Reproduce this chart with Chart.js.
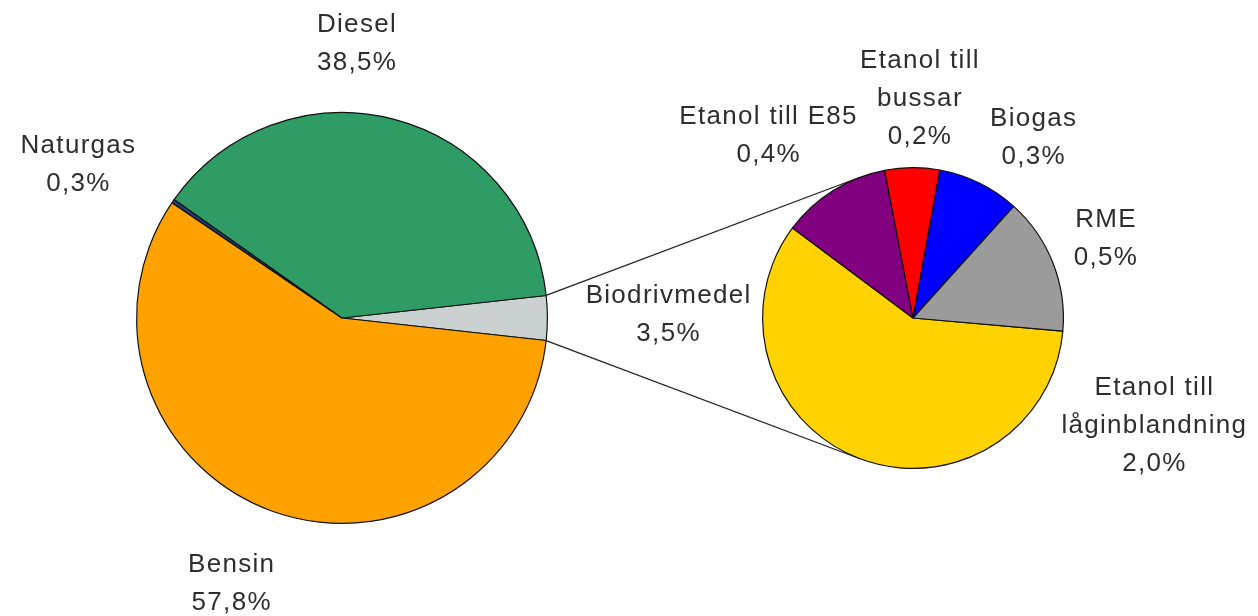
<!DOCTYPE html>
<html><head><meta charset="utf-8">
<script src="https://cdn.jsdelivr.net/npm/chart.js@4.4.0/dist/chart.umd.min.js"></script>
<style>
html,body{margin:0;padding:0;background:#fff;}
#wrap{position:relative;width:1258px;height:616px;overflow:hidden;}
#wrap canvas{position:absolute;left:0;top:0;}
</style></head><body>
<div id="wrap"><canvas id="c1" width="1258" height="616"></canvas><canvas id="c2" width="1258" height="616"></canvas></div>
<script>
// ---- data ----
const mainLabels = ['Biodrivmedel', 'Bensin', 'Naturgas', 'Diesel'];
const mainValues = [3.5, 57.8, 0.3, 38.5];
const mainColors = ['#cbd1d1', '#ffa200', '#1c3f78', '#2f9c66'];

const subLabels = ['Etanol till\nlåginblandning', 'Etanol till E85', 'Etanol till\nbussar', 'Biogas', 'RME'];
const subValues = [2.0, 0.4, 0.2, 0.3, 0.5];
const subColors = ['#ffd200', '#800080', '#ff0000', '#0000ff', '#9b9b9b'];

// label anchors relative to pie centre, in units of the pie radius
const mainAnchors = [[1.59, -0.015], [-0.537, 1.295], [-1.283, -0.744], [0.073, -1.337]];
const subAnchors = [[1.605, 0.717], [-0.96, -1.214], [0.046, -1.454], [0.803, -1.197], [1.283, -0.526]];

const fmt = v => v.toFixed(1).replace('.', ',') + '%';
const FONT = '26px "Liberation Sans", Arial, sans-serif';
const LH = 38;

const outLabels = {
  id: 'outLabels',
  afterDraw(chart, args, opts) {
    const ctx = chart.ctx;
    const arc = chart.getDatasetMeta(0).data[0];
    const cx = arc.x, cy = arc.y, r = arc.outerRadius;
    const vals = chart.data.datasets[0].data;
    ctx.save();
    ctx.font = FONT;
    try { ctx.letterSpacing = '1.3px'; } catch (e) {}
    ctx.fillStyle = '#2e2e2e';
    ctx.textAlign = 'center';
    ctx.textBaseline = 'middle';
    opts.anchors.forEach((a, i) => {
      const lines = chart.data.labels[i].split('\n').concat([fmt(vals[i])]);
      const x = cx + a[0] * r;
      const yc = cy + a[1] * r;
      const top = yc - (lines.length - 1) * LH / 2;
      lines.forEach((t, k) => ctx.fillText(t, x, top + k * LH));
    });
    ctx.restore();
  }
};

function pieOptions(rotation, padding, anchors) {
  return {
    responsive: false,
    animation: false,
    rotation: rotation,
    layout: { padding: padding },
    plugins: { legend: { display: false }, tooltip: { enabled: false }, outLabels: { anchors: anchors } }
  };
}

const mainTotal = mainValues.reduce((a, b) => a + b, 0);
const mainRotation = 90 - (mainValues[0] / mainTotal) * 180;

const chart1 = new Chart(document.getElementById('c1'), {
  type: 'pie',
  data: { labels: mainLabels, datasets: [{ data: mainValues, backgroundColor: mainColors, borderColor: '#111', borderWidth: 1.2 }] },
  options: pieOptions(mainRotation, { left: 136, top: 112, right: 710, bottom: 92 }, mainAnchors),
  plugins: [outLabels]
});

const connectors = {
  id: 'connectors',
  beforeDatasetsDraw(chart) {
    const big = chart1.getDatasetMeta(0).data[0];
    const small = chart.getDatasetMeta(0).data[0];
    const C = { x: small.x, y: small.y }, r = small.outerRadius;
    const ctx = chart.ctx;
    ctx.save();
    ctx.strokeStyle = '#222';
    ctx.lineWidth = 1.3;
    [[big.startAngle, 1], [big.endAngle, -1]].forEach(([ang, s]) => {
      const P = { x: big.x + big.outerRadius * Math.cos(ang), y: big.y + big.outerRadius * Math.sin(ang) };
      const dx = P.x - C.x, dy = P.y - C.y;
      const d = Math.hypot(dx, dy);
      const t = Math.atan2(dy, dx) + s * Math.acos(r / d);
      ctx.beginPath();
      ctx.moveTo(P.x, P.y);
      ctx.lineTo(C.x + r * Math.cos(t), C.y + r * Math.sin(t));
      ctx.stroke();
    });
    ctx.restore();
  }
};

const chart2 = new Chart(document.getElementById('c2'), {
  type: 'pie',
  data: { labels: subLabels, datasets: [{ data: subValues, backgroundColor: subColors, borderColor: '#111', borderWidth: 1.2 }] },
  options: pieOptions(95, { left: 760, top: 167, right: 192, bottom: 147 }, subAnchors),
  plugins: [outLabels, connectors]
});
</script>
</body></html>
